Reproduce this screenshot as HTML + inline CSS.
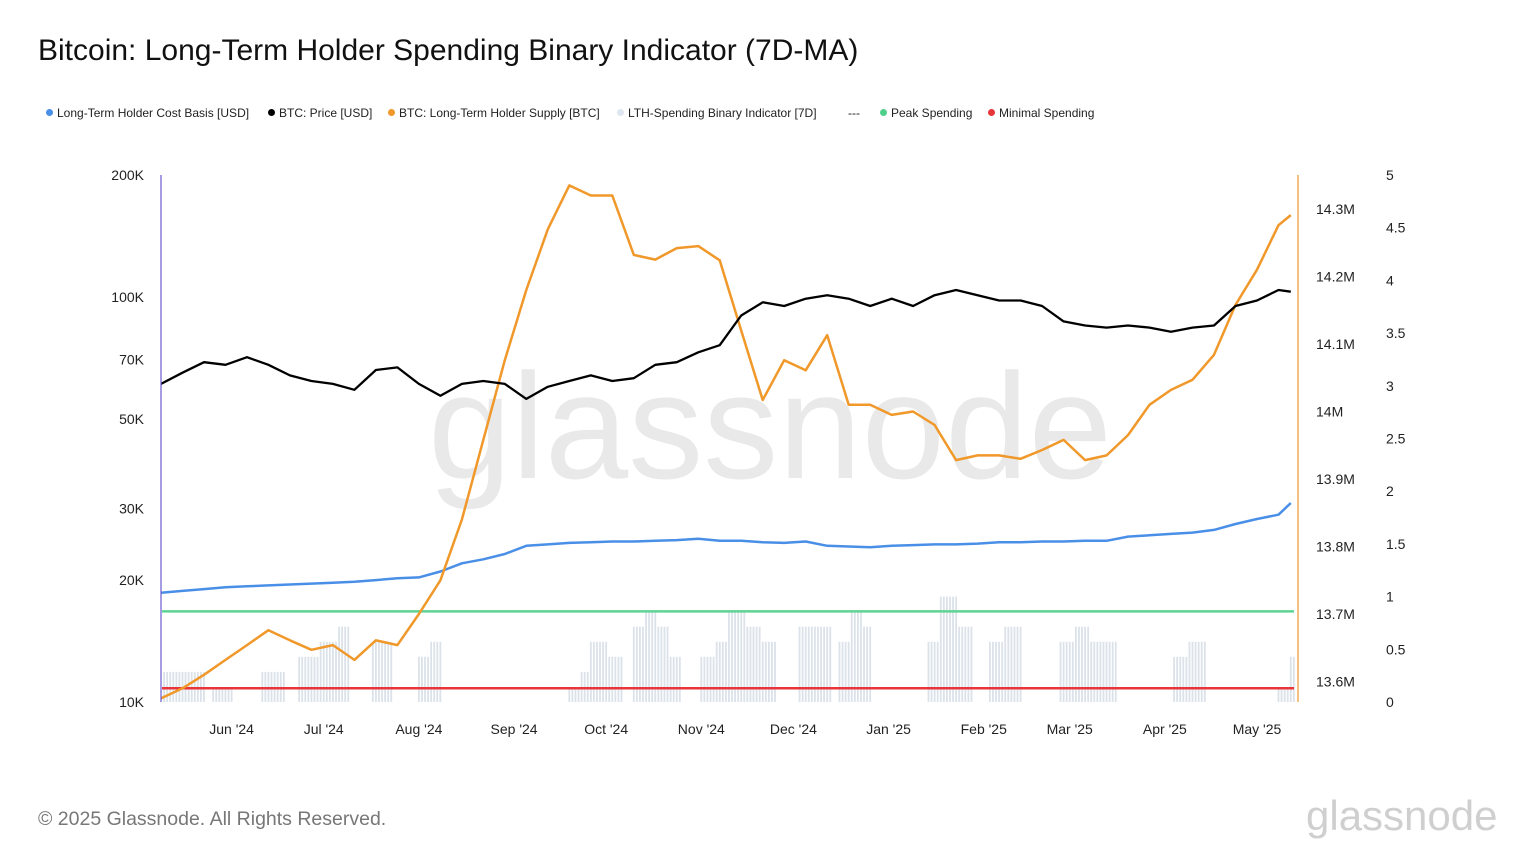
<!DOCTYPE html>
<html><head><meta charset="utf-8"><style>
body{margin:0;width:1536px;height:864px;background:#fff;font-family:"Liberation Sans",sans-serif;overflow:hidden;position:relative}
.t{position:absolute;white-space:nowrap}
.leg{position:absolute;top:106px;font-size:12px;color:#222;white-space:nowrap}
.leg i{display:inline-block;width:7px;height:7px;border-radius:50%;margin-right:4px;vertical-align:1px}
</style></head><body>
<div class="t" style="left:38px;top:34px;font-size:30px;color:#111">Bitcoin: Long-Term Holder Spending Binary Indicator (7D-MA)</div>
<div class="leg" style="left:46px"><i style="background:#4a8fe7"></i>Long-Term Holder Cost Basis [USD]</div>
<div class="leg" style="left:268px"><i style="background:#000"></i>BTC: Price [USD]</div>
<div class="leg" style="left:388px"><i style="background:#f0982a"></i>BTC: Long-Term Holder Supply [BTC]</div>
<div class="leg" style="left:617px"><i style="background:#dde5ee"></i>LTH-Spending Binary Indicator [7D]</div>
<div class="leg" style="left:848px">---</div>
<div class="leg" style="left:880px"><i style="background:#4fd08a"></i>Peak Spending</div>
<div class="leg" style="left:988px"><i style="background:#e8353a"></i>Minimal Spending</div>
<svg id="c" width="1536" height="864" style="position:absolute;left:0;top:0">
<text x="770" y="478" text-anchor="middle" font-size="150" fill="#e9e9e9" font-family="Liberation Sans">glassnode</text>
</svg>
<div class="t" style="left:38px;top:808px;font-size:19.5px;color:#777">© 2025 Glassnode. All Rights Reserved.</div>
<div class="t" style="left:1306px;top:792px;font-size:42px;color:#cfcfcf">glassnode</div>
<script>
const priceK=[61,65,69,68,71,68,64,62,61,59,66,67,61,57,61,62,61,56,60,62,64,62,63,68,69,73,76,90,97,95,99,101,99,95,99,95,101,104,101,98,98,95,87,85,84,85,84,82,84,85,95,98,104,103];
const supplyM=[13.575,13.59,13.61,13.632,13.654,13.676,13.661,13.647,13.654,13.632,13.661,13.654,13.70,13.75,13.84,13.958,14.076,14.18,14.27,14.335,14.32,14.32,14.232,14.225,14.242,14.245,14.224,14.12,14.017,14.076,14.061,14.113,14.01,14.01,13.995,14.0,13.98,13.928,13.935,13.935,13.93,13.943,13.958,13.928,13.935,13.965,14.01,14.032,14.047,14.084,14.158,14.21,14.276,14.291];
const costK=[18.6,18.8,19.0,19.2,19.3,19.4,19.5,19.6,19.7,19.8,20.0,20.2,20.3,21.0,22.0,22.5,23.2,24.3,24.5,24.7,24.8,24.9,24.9,25.0,25.1,25.3,25.0,25.0,24.8,24.7,24.9,24.3,24.2,24.1,24.3,24.4,24.5,24.5,24.6,24.8,24.8,24.9,24.9,25.0,25.0,25.6,25.8,26.0,26.2,26.6,27.5,28.3,29.0,31.0];
const binaryRuns=[[0,1],[2,14],[0,2],[1,7],[0,9],[2,8],[0,4],[3,7],[4,6],[5,4],[0,7],[4,7],[0,8],[3,4],[4,4],[0,41],[1,4],[2,3],[4,6],[3,5],[0,3],[5,4],[6,4],[5,4],[3,4],[0,6],[3,5],[4,4],[6,6],[5,5],[4,5],[0,7],[5,11],[0,2],[4,4],[6,4],[5,3],[0,18],[4,4],[7,6],[5,5],[0,5],[4,5],[5,6],[0,12],[4,5],[5,5],[4,9],[0,18],[3,5],[4,6],[0,23],[1,4],[3,2]];
const leftTicks=[[200000,"200K"],[100000,"100K"],[70000,"70K"],[50000,"50K"],[30000,"30K"],[20000,"20K"],[10000,"10K"]];
const supplyTicks=[14.3,14.2,14.1,14.0,13.9,13.8,13.7,13.6];
const supplyLabels=["14.3M","14.2M","14.1M","14M","13.9M","13.8M","13.7M","13.6M"];
const binTicks=[0,0.5,1,1.5,2,2.5,3,3.5,4,4.5,5];
const monthLabels=["Jun '24","Jul '24","Aug '24","Sep '24","Oct '24","Nov '24","Dec '24","Jan '25","Feb '25","Mar '25","Apr '25","May '25"];
const monthDays=[23,53,84,115,145,176,206,237,268,296,327,357];
const peakLevel=0.86, minLevel=0.13;

const X0=161,PX=3.07,TOP=175,BOT=702;
const xD=d=>X0+d*PX;
const yL=v=>BOT-(Math.log10(v)-4)*(BOT-TOP)/Math.log10(20);
const yS=v=>209+(14.3-v)*675;
const yB=v=>BOT-v*(BOT-TOP)/5;
const dayOf=i=>i<53?i*7:368;
const svg=document.getElementById('c');
const NS='http://www.w3.org/2000/svg';
function mk(t,a,p){const e=document.createElementNS(NS,t);for(const k in a)e.setAttribute(k,a[k]);(p||svg).appendChild(e);return e;}

let day=0;
const bars=mk('g',{});


binaryRuns.forEach(([v,n])=>{for(let j=0;j<n;j++){if(v>0){const r=mk('rect',{x:xD(day)-0.9,y:yB(v/7),width:1.8,height:BOT-yB(v/7),fill:'#dbe2ea'},bars);

}day++;}});

const pk=mk('line',{x1:162,x2:1294,y1:yB(peakLevel),y2:yB(peakLevel),stroke:'#5fd393','stroke-width':2.5});


const mn=mk('line',{x1:162,x2:1294,y1:yB(minLevel),y2:yB(minLevel),stroke:'#e8353a','stroke-width':2.5});



function line(arr,yf,color,name,w){const d=arr.map((v,i)=>(i?'L':'M')+xD(dayOf(i)).toFixed(1)+','+yf(v).toFixed(1)).join('');
const p=mk('path',{d,fill:'none',stroke:color,'stroke-width':w,'stroke-linejoin':'round'});

}
line(costK,v=>yL(v*1000),'#4a8fe7','cost-basis-line',2.5);
line(supplyM,yS,'#f0982a','supply-line',2.5);
line(priceK,v=>yL(v*1000),'#000','price-line',2.3);

mk('line',{x1:161,x2:161,y1:TOP,y2:BOT,stroke:'#6a5acd','stroke-width':1.2});
mk('line',{x1:1298,x2:1298,y1:TOP,y2:BOT,stroke:'#f0982a','stroke-width':1.2});
function txt(x,y,s,anchor,name){const t=mk('text',{x,y,'text-anchor':anchor,'font-size':14,fill:'#222','font-family':'Liberation Sans'});t.textContent=s;

}
leftTicks.forEach(([v,s])=>txt(144,yL(v)+5,s,'end','left-tick-label'));
supplyTicks.forEach((v,i)=>txt(1316,yS(v)+5,supplyLabels[i],'start','supply-tick-label'));
binTicks.forEach(v=>txt(1386,yB(v)+5,String(v),'start','binary-tick-label'));
monthDays.forEach((d,i)=>txt(xD(d),734,monthLabels[i],'middle','x-tick-label'));
</script>
</body></html>
